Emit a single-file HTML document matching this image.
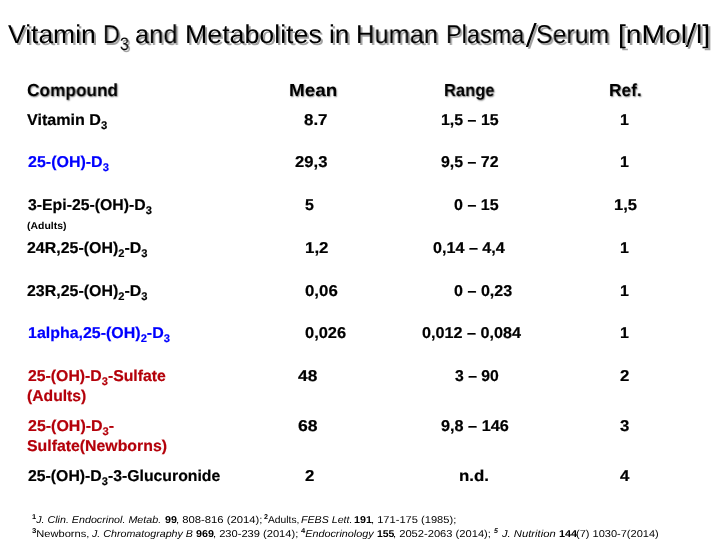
<!DOCTYPE html>
<html><head><meta charset="utf-8"><title>Vitamin D3 and Metabolites</title><style>
html,body{margin:0;padding:0;background:#fff;}
body{width:720px;height:540px;position:relative;overflow:hidden;font-family:"Liberation Sans",sans-serif;}
.t{text-rendering:geometricPrecision;will-change:transform;position:absolute;white-space:nowrap;line-height:1;transform-origin:0 0;font-weight:bold;color:#000;}
.n{font-weight:normal;}
.b{-webkit-text-stroke:.2px;}
.t sub{font-size:.7em;vertical-align:baseline;position:relative;top:.4em;line-height:0;}
.t sup{font-size:.7em;font-weight:bold;vertical-align:baseline;position:relative;top:-.6em;line-height:0;}
.ts{text-shadow:2px 1.8px .3px #a2a2a2;}
.hs{text-shadow:.7px .7px 1.5px rgba(0,0,0,.5);}
</style></head><body>
<svg width="720" height="540" style="position:absolute;left:0;top:0"><polygon points="525.8,47.0 528.2,47.0 536.7,22.9 534.3,22.9" fill="#a0a0a0" transform="translate(2,1.8)"/><polygon points="525.8,47.0 528.2,47.0 536.7,22.9 534.3,22.9" fill="#000"/><polygon points="685.6,47.0 688.0,47.0 696.3,22.9 693.9,22.9" fill="#a0a0a0" transform="translate(2,1.8)"/><polygon points="685.6,47.0 688.0,47.0 696.3,22.9 693.9,22.9" fill="#000"/></svg>
<div class="t n ts" style="left:8.33px;top:22.60px;font-size:25.80px;transform:scaleX(1.0258);">Vitamin</div>
<div class="t n ts" style="left:103.28px;top:22.60px;font-size:25.80px;transform:scaleX(0.9030);">D<sub>3</sub></div>
<div class="t n ts" style="left:135.15px;top:22.60px;font-size:25.80px;transform:scaleX(0.9870);">and</div>
<div class="t n ts" style="left:185.29px;top:22.60px;font-size:25.80px;transform:scaleX(1.0369);">Metabolites</div>
<div class="t n ts" style="left:329.25px;top:22.60px;font-size:25.80px;transform:scaleX(1.0183);">in</div>
<div class="t n ts" style="left:355.70px;top:22.60px;font-size:25.80px;transform:scaleX(0.9863);">Human</div>
<div class="t n ts" style="left:446.07px;top:22.60px;font-size:25.80px;transform:scaleX(0.9085);">Plasma</div>
<div class="t n ts" style="left:536.45px;top:22.60px;font-size:25.80px;transform:scaleX(0.9632);">Serum</div>
<div class="t n ts" style="left:617.88px;top:22.60px;font-size:25.80px;transform:scaleX(1.0942);">[nMol</div>
<div class="t n ts" style="left:696.38px;top:22.60px;font-size:25.80px;transform:scaleX(1.1031);">l]</div>
<div class="t hs" style="left:26.81px;top:81.60px;font-size:17.45px;transform:scaleX(0.9899);">Compound</div>
<div class="t hs" style="left:288.91px;top:81.60px;font-size:17.45px;transform:scaleX(1.0812);">Mean</div>
<div class="t hs" style="left:443.87px;top:81.60px;font-size:17.45px;transform:scaleX(0.9482);">Range</div>
<div class="t hs" style="left:608.82px;top:81.60px;font-size:17.45px;transform:scaleX(0.9924);">Ref.</div>
<div class="t b" style="left:27.30px;top:112.50px;font-size:15.70px;transform:scaleX(1.0260);">Vitamin D<sub>3</sub></div>
<div class="t b" style="left:27.55px;top:154.80px;font-size:15.70px;color:#0000ff;transform:scaleX(1.0200);">25-(OH)-D<sub>3</sub></div>
<div class="t b" style="left:27.65px;top:198.00px;font-size:15.70px;transform:scaleX(1.0071);">3-Epi-25-(OH)-D<sub>3</sub></div>
<div class="t" style="left:27.05px;top:221.80px;font-size:10.00px;transform:scaleX(1.0441);">(Adults)</div>
<div class="t b" style="left:27.35px;top:241.00px;font-size:15.70px;transform:scaleX(1.0159);">24R,25-(OH)<sub>2</sub>-D<sub>3</sub></div>
<div class="t b" style="left:27.35px;top:283.70px;font-size:15.70px;transform:scaleX(1.0159);">23R,25-(OH)<sub>2</sub>-D<sub>3</sub></div>
<div class="t b" style="left:27.61px;top:325.50px;font-size:15.70px;color:#0000ff;transform:scaleX(1.0173);">1alpha,25-(OH)<sub>2</sub>-D<sub>3</sub></div>
<div class="t b" style="left:27.55px;top:368.80px;font-size:15.70px;color:#b4000a;transform:scaleX(1.0072);">25-(OH)-D<sub>3</sub>-Sulfate</div>
<div class="t b" style="left:26.95px;top:389.20px;font-size:15.70px;color:#b4000a;transform:scaleX(1.0005);">(Adults)</div>
<div class="t b" style="left:27.55px;top:419.00px;font-size:15.70px;color:#b4000a;transform:scaleX(1.0190);">25-(OH)-D<sub>3</sub>-</div>
<div class="t b" style="left:27.11px;top:439.30px;font-size:15.70px;color:#b4000a;transform:scaleX(1.0100);">Sulfate(Newborns)</div>
<div class="t b" style="left:27.55px;top:468.80px;font-size:15.70px;transform:scaleX(1.0073);">25-(OH)-D<sub>3</sub>-3-Glucuronide</div>
<div class="t b" style="left:304.49px;top:112.50px;font-size:15.70px;transform:scaleX(1.0784);">8.7</div>
<div class="t b" style="left:295.03px;top:154.80px;font-size:15.70px;transform:scaleX(1.0616);">29,3</div>
<div class="t b" style="left:304.95px;top:198.00px;font-size:15.70px;transform:scaleX(1.0200);">5</div>
<div class="t b" style="left:304.86px;top:241.00px;font-size:15.70px;transform:scaleX(1.0786);">1,2</div>
<div class="t b" style="left:304.94px;top:283.70px;font-size:15.70px;transform:scaleX(1.0731);">0,06</div>
<div class="t b" style="left:304.96px;top:325.50px;font-size:15.70px;transform:scaleX(1.0484);">0,026</div>
<div class="t b" style="left:297.85px;top:368.80px;font-size:15.70px;transform:scaleX(1.1035);">48</div>
<div class="t b" style="left:297.55px;top:419.00px;font-size:15.70px;transform:scaleX(1.1217);">68</div>
<div class="t b" style="left:305.02px;top:468.80px;font-size:15.70px;transform:scaleX(1.0737);">2</div>
<div class="t b" style="left:441.02px;top:112.50px;font-size:15.70px;transform:scaleX(1.0160);">1,5 &ndash; 15</div>
<div class="t b" style="left:441.19px;top:154.80px;font-size:15.70px;transform:scaleX(1.0149);">9,5 &ndash; 72</div>
<div class="t b" style="left:453.87px;top:198.00px;font-size:15.70px;transform:scaleX(1.0242);">0 &ndash; 15</div>
<div class="t b" style="left:433.17px;top:241.00px;font-size:15.70px;transform:scaleX(1.0286);">0,14 &ndash; 4,4</div>
<div class="t b" style="left:453.87px;top:283.70px;font-size:15.70px;transform:scaleX(1.0272);">0 &ndash; 0,23</div>
<div class="t b" style="left:422.17px;top:325.50px;font-size:15.70px;transform:scaleX(1.0329);">0,012 &ndash; 0,084</div>
<div class="t b" style="left:454.65px;top:368.80px;font-size:15.70px;transform:scaleX(1.0038);">3 &ndash; 90</div>
<div class="t b" style="left:440.58px;top:419.00px;font-size:15.70px;transform:scaleX(1.0362);">9,8 &ndash; 146</div>
<div class="t b" style="left:458.94px;top:468.80px;font-size:15.70px;transform:scaleX(1.0729);">n.d.</div>
<div class="t b" style="left:620.21px;top:112.50px;font-size:15.70px;transform:scaleX(1.0200);">1</div>
<div class="t b" style="left:620.21px;top:154.80px;font-size:15.70px;transform:scaleX(1.0200);">1</div>
<div class="t b" style="left:613.88px;top:198.00px;font-size:15.70px;transform:scaleX(1.0580);">1,5</div>
<div class="t b" style="left:620.21px;top:241.00px;font-size:15.70px;transform:scaleX(1.0200);">1</div>
<div class="t b" style="left:620.21px;top:283.70px;font-size:15.70px;transform:scaleX(1.0200);">1</div>
<div class="t b" style="left:620.21px;top:325.50px;font-size:15.70px;transform:scaleX(1.0200);">1</div>
<div class="t b" style="left:620.32px;top:368.80px;font-size:15.70px;transform:scaleX(1.0737);">2</div>
<div class="t b" style="left:620.43px;top:419.00px;font-size:15.70px;transform:scaleX(1.0694);">3</div>
<div class="t b" style="left:620.26px;top:468.80px;font-size:15.70px;transform:scaleX(1.0689);">4</div>
<div class="t n" style="left:32.37px;top:516.00px;font-size:10.00px;transform:scaleX(1.0705);"><sup>1</sup><i>J. Clin. Endocrinol. Metab.</i></div>
<div class="t" style="left:164.57px;top:516.00px;font-size:10.00px;transform:scaleX(1.0743);">99</div>
<div class="t n" style="left:175.50px;top:516.00px;font-size:10.00px;transform:scaleX(1.1271);">, 808-816 (2014);</div>
<div class="t n" style="left:263.50px;top:516.00px;font-size:10.00px;transform:scaleX(1.0266);"><sup>2</sup>Adults,</div>
<div class="t n" style="left:300.54px;top:516.00px;font-size:10.00px;transform:scaleX(1.0649);"><i>FEBS Lett.</i></div>
<div class="t" style="left:354.33px;top:516.00px;font-size:10.00px;transform:scaleX(1.0734);">191</div>
<div class="t n" style="left:371.22px;top:516.00px;font-size:10.00px;transform:scaleX(1.1111);">, 171-175 (1985);</div>
<div class="t n" style="left:32.37px;top:529.60px;font-size:10.00px;transform:scaleX(1.1096);"><sup>3</sup>Newborns,</div>
<div class="t n" style="left:92.09px;top:529.60px;font-size:10.00px;transform:scaleX(1.0687);"><i>J. Chromatography B</i></div>
<div class="t" style="left:195.87px;top:529.60px;font-size:10.00px;transform:scaleX(1.0789);">969</div>
<div class="t n" style="left:212.72px;top:529.60px;font-size:10.00px;transform:scaleX(1.1111);">, 230-239 (2014);</div>
<div class="t n" style="left:301.13px;top:529.60px;font-size:10.00px;transform:scaleX(1.0796);"><sup>4</sup><i>Endocrinology</i></div>
<div class="t" style="left:376.84px;top:529.60px;font-size:10.00px;transform:scaleX(1.0451);">155</div>
<div class="t n" style="left:393.22px;top:529.60px;font-size:10.00px;transform:scaleX(1.1143);">, 2052-2063 (2014);</div>
<div class="t n" style="left:493.91px;top:529.60px;font-size:10.00px;transform:scaleX(0.9831);"><b><i><sup>5</sup></i></b></div>
<div class="t n" style="left:502.37px;top:529.60px;font-size:10.00px;transform:scaleX(1.1238);"><i>J. Nutrition</i></div>
<div class="t" style="left:558.62px;top:529.60px;font-size:10.00px;transform:scaleX(1.0876);">144</div>
<div class="t n" style="left:576.28px;top:529.60px;font-size:10.00px;transform:scaleX(1.1020);">(7) 1030-7(2014)</div>
</body></html>
